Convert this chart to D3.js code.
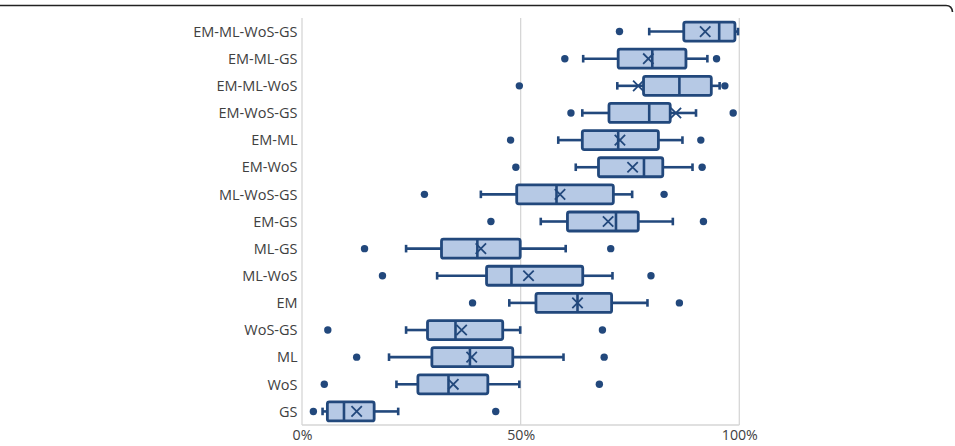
<!DOCTYPE html>
<html>
<head>
<meta charset="utf-8">
<script src="https://cdn.jsdelivr.net/npm/d3@7"></script>
<style>
  html, body { margin: 0; padding: 0; background: #fff; }
  svg { display: block; }
</style>
</head>
<body>
<svg id="chart" width="955" height="446"></svg>
<script>
// ---- data ----
const categories = ["EM-ML-WoS-GS","EM-ML-GS","EM-ML-WoS","EM-WoS-GS","EM-ML","EM-WoS","ML-WoS-GS","EM-GS","ML-GS","ML-WoS","EM","WoS-GS","ML","WoS","GS"];
const whiskerLow  = [0.794,0.643,0.721,0.641,0.586,0.626,0.409,0.546,0.238,0.309,0.474,0.238,0.199,0.216,0.047];
const q1          = [0.873,0.723,0.781,0.702,0.641,0.678,0.491,0.607,0.319,0.422,0.535,0.287,0.297,0.265,0.058];
const median      = [0.954,0.801,0.863,0.794,0.723,0.782,0.582,0.718,0.401,0.479,0.630,0.351,0.384,0.335,0.096];
const q3          = [0.990,0.878,0.936,0.842,0.815,0.825,0.712,0.769,0.499,0.642,0.708,0.459,0.482,0.425,0.165];
const whiskerHigh = [0.997,0.927,0.955,0.901,0.870,0.893,0.755,0.848,0.603,0.710,0.790,0.499,0.598,0.497,0.220];
const means       = [0.922,0.792,0.769,0.855,0.727,0.756,0.590,0.700,0.409,0.518,0.630,0.365,0.388,0.346,0.125];
const outliers    = [[0.726],[0.601,0.948],[0.497,0.967],[0.615,0.986],[0.477,0.912],[0.489,0.915],[0.280,0.828],[0.432,0.918],[0.143,0.706],[0.184,0.798],[0.390,0.863],[0.059,0.687],[0.125,0.691],[0.051,0.680],[0.026,0.443]];
const xTicks      = [0, 0.5, 1];

// ---- layout ----
const svg = d3.select("#chart");
const plotLeft = 302, plotRight = 739.3, plotTop = 18, plotBottom = 425;
const stroke = "#22487c", fill = "#b6c9e5", grid = "#d6d6d6", textCol = "#404040";
const font = "'Open Sans', 'Liberation Sans', sans-serif";

const x = d3.scaleLinear().domain([0, 1]).range([plotLeft, plotRight]);
const y = d3.scaleBand().domain(categories).range([plotTop, plotBottom]).padding(0);
const boxH = y.bandwidth() * 0.70;
const capH = y.bandwidth() * 0.28;

// frame top line (figure border)
svg.append("path")
  .attr("d", "M0,5.5 L946,5.5 Q952,5.5 952.5,12")
  .attr("fill", "none").attr("stroke", "#222").attr("stroke-width", 1.6);

// gridlines
svg.append("g").selectAll("line").data(xTicks.filter(d => d > 0)).join("line")
  .attr("x1", d => x(d)).attr("x2", d => x(d))
  .attr("y1", plotTop).attr("y2", plotBottom)
  .attr("stroke", grid).attr("stroke-width", 1.3);
// axis lines
svg.append("line").attr("x1", plotLeft).attr("x2", plotLeft).attr("y1", plotTop).attr("y2", plotBottom)
  .attr("stroke", grid).attr("stroke-width", 1.3);
svg.append("line").attr("x1", plotLeft).attr("x2", plotRight).attr("y1", plotBottom).attr("y2", plotBottom)
  .attr("stroke", grid).attr("stroke-width", 1.3);

// axes
const xAxis = svg.append("g").attr("transform", `translate(0,${plotBottom})`)
  .call(d3.axisBottom(x).tickValues(xTicks).tickFormat(d3.format(".0%")).tickSize(0).tickPadding(5));
xAxis.select(".domain").remove();
xAxis.selectAll("text").attr("font-family", font).attr("font-size", 14.2).attr("fill", textCol);

const yAxis = svg.append("g").attr("transform", `translate(${plotLeft},0)`)
  .call(d3.axisLeft(y).tickSize(0).tickPadding(4.5));
yAxis.select(".domain").remove();
yAxis.selectAll("text").attr("font-family", font).attr("font-size", 14.5).attr("fill", textCol)
  .attr("dy", "0.36em");

// boxes
const rows = svg.append("g").selectAll("g").data(categories).join("g")
  .attr("transform", d => `translate(0,${y(d) + y.bandwidth() / 2})`);

// whiskers
rows.append("line")
  .attr("x1", (d, i) => x(whiskerLow[i])).attr("x2", (d, i) => x(q1[i]))
  .attr("y1", 0).attr("y2", 0).attr("stroke", stroke).attr("stroke-width", 2.6);
rows.append("line")
  .attr("x1", (d, i) => x(q3[i])).attr("x2", (d, i) => x(whiskerHigh[i]))
  .attr("y1", 0).attr("y2", 0).attr("stroke", stroke).attr("stroke-width", 2.6);
rows.append("line")
  .attr("x1", (d, i) => x(whiskerLow[i])).attr("x2", (d, i) => x(whiskerLow[i]))
  .attr("y1", -capH / 2).attr("y2", capH / 2).attr("stroke", stroke).attr("stroke-width", 2.6);
rows.append("line")
  .attr("x1", (d, i) => x(whiskerHigh[i])).attr("x2", (d, i) => x(whiskerHigh[i]))
  .attr("y1", -capH / 2).attr("y2", capH / 2).attr("stroke", stroke).attr("stroke-width", 2.6);

// box
rows.append("rect")
  .attr("x", (d, i) => x(q1[i])).attr("width", (d, i) => x(q3[i]) - x(q1[i]))
  .attr("y", -boxH / 2).attr("height", boxH).attr("rx", 2)
  .attr("fill", fill).attr("stroke", stroke).attr("stroke-width", 2.8);
// median
rows.append("line")
  .attr("x1", (d, i) => x(median[i])).attr("x2", (d, i) => x(median[i]))
  .attr("y1", -boxH / 2).attr("y2", boxH / 2).attr("stroke", stroke).attr("stroke-width", 2.6);
// mean X
const mx = 5.2;
rows.append("path")
  .attr("d", (d, i) => {
    const cx = x(means[i]);
    return `M${cx - mx},${-mx} L${cx + mx},${mx} M${cx - mx},${mx} L${cx + mx},${-mx}`;
  })
  .attr("fill", "none").attr("stroke", stroke).attr("stroke-width", 1.8);
// outliers
rows.selectAll("circle").data((d, i) => outliers[i]).join("circle")
  .attr("cx", v => x(v)).attr("cy", 0).attr("r", 3.7).attr("fill", stroke);
</script>
</body>
</html>
